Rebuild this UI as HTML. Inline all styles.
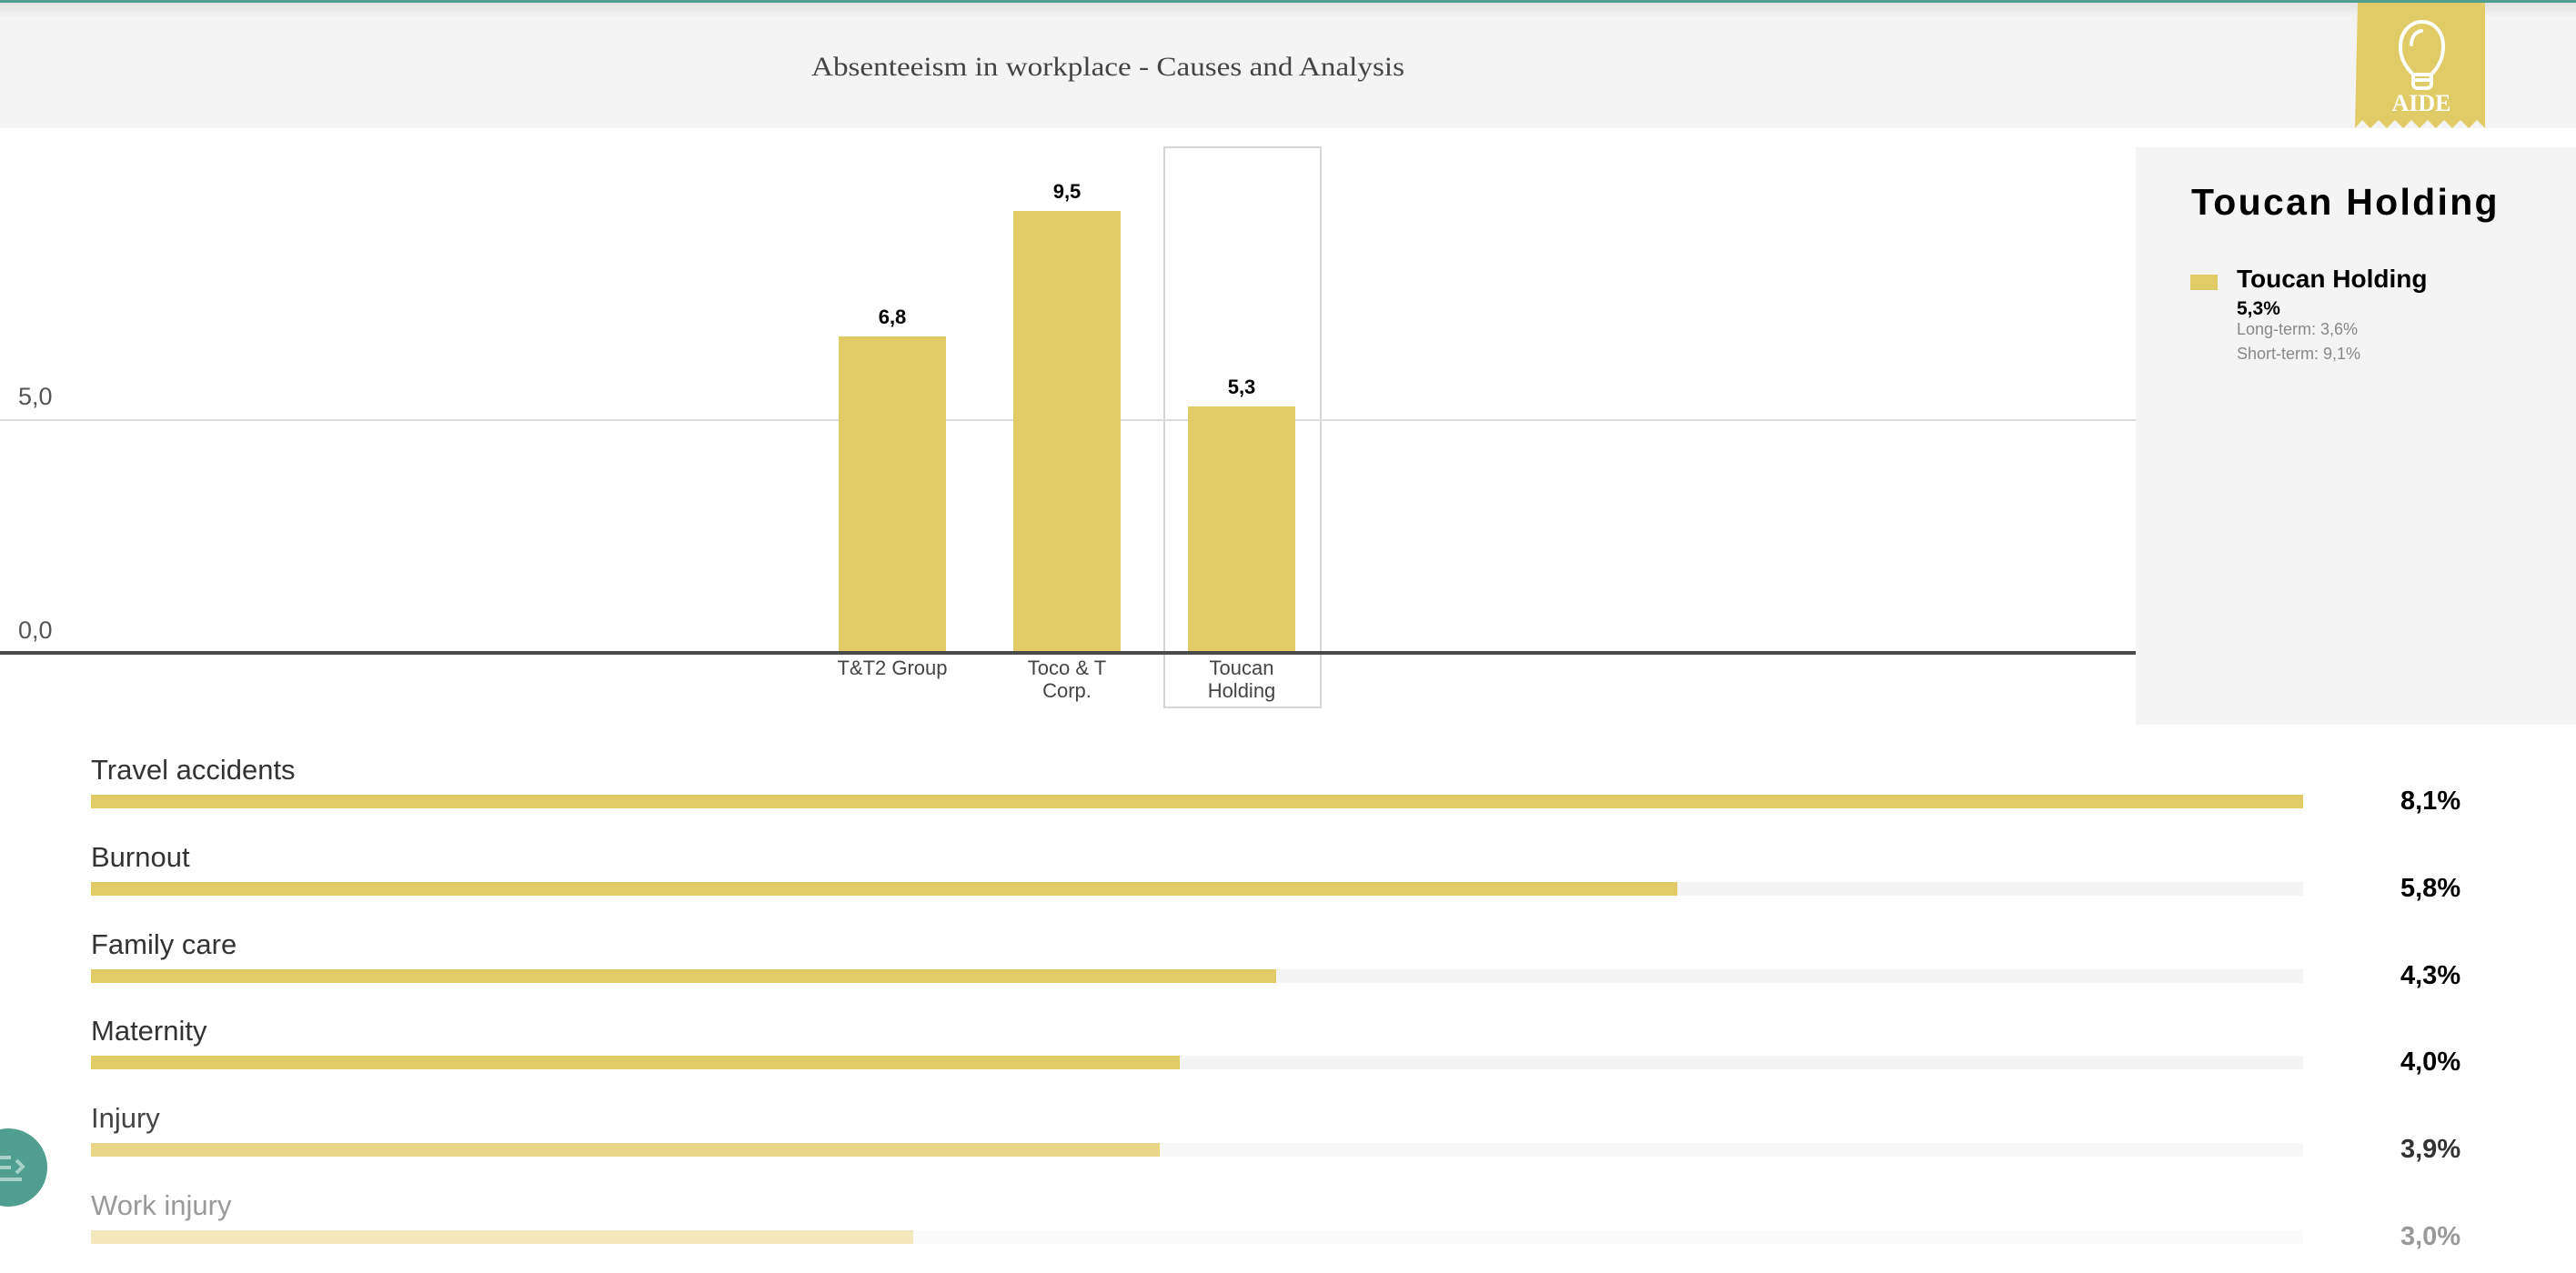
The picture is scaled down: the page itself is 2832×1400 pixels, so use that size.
<!DOCTYPE html>
<html><head><meta charset="utf-8"><style>
html,body{margin:0;padding:0;background:#fff;}
body{width:2832px;height:1400px;overflow:hidden;}
svg{display:block;}
</style></head><body>
<svg width="2832" height="1400" viewBox="0 0 2832 1400" xmlns="http://www.w3.org/2000/svg" font-family="Liberation Sans, Arial, sans-serif">
<defs>
<linearGradient id="sh" x1="0" y1="0" x2="0" y2="1"><stop offset="0" stop-color="#000" stop-opacity="0.08"/><stop offset="1" stop-color="#000" stop-opacity="0"/></linearGradient>
</defs>
<!-- header -->
<rect x="0" y="0" width="2832" height="141" fill="#f4f4f4"/>
<rect x="0" y="0" width="2832" height="3" fill="#4f9e8f"/>
<rect x="0" y="3" width="2832" height="16" fill="url(#sh)"/>
<text x="892" y="83" textLength="652" lengthAdjust="spacingAndGlyphs" font-family="Liberation Serif, serif" font-size="30" fill="#444">Absenteeism in workplace - Causes and Analysis</text>
<!-- AIDE badge -->
<path d="M2592,3 H2732 V141 l-9,-9 l-9,9 l-9,-9 l-9,9 l-9,-9 l-9,9 l-9,-9 l-9,9 l-9,-9 l-9,9 l-9,-9 l-9,9 l-9,-9 l-9,9 l-9,-9 l-8,9 Z" fill="#e1cb66"/>
<g fill="none" stroke="#fff" stroke-width="4" stroke-linecap="round">
<path d="M2653,82 C2641,70 2639,60 2639,51 C2639,35 2650,24 2663,24 C2676,24 2686,35 2686,51 C2686,60 2684,70 2673,82 Z"/>
<path d="M2653,82 V92 C2653,95 2655,97 2658,97 H2668 C2671,97 2673,95 2673,92 V82 M2654,88 H2672"/>
<path d="M2651,49 C2651,40 2656,35 2662,34"/>
</g>
<text x="2662" y="122" text-anchor="middle" font-family="Liberation Serif, serif" font-weight="bold" font-size="26" fill="#fff">AIDE</text>
<!-- side panel -->
<rect x="2348" y="162" width="484" height="635" fill="#f4f4f4"/>
<text x="2409" y="236" font-size="41" font-weight="bold" letter-spacing="2.3" fill="#000">Toucan Holding</text>
<rect x="2408" y="302" width="30" height="17" fill="#e1cb66"/>
<text x="2459" y="316" font-size="28" font-weight="bold" fill="#000">Toucan Holding</text>
<text x="2459" y="346" font-size="21" font-weight="bold" fill="#000">5,3%</text>
<text x="2459" y="368" font-size="18" fill="#888">Long-term: 3,6%</text>
<text x="2459" y="395" font-size="18" fill="#888">Short-term: 9,1%</text>
<!-- chart -->
<rect x="1280" y="162" width="172" height="616" fill="none" stroke="#d6d6d6" stroke-width="2"/>
<line x1="0" y1="462" x2="2348" y2="462" stroke="#dcdcdc" stroke-width="2"/>
<text x="20" y="445" font-size="27" fill="#555">5,0</text>
<text x="20" y="702" font-size="27" fill="#555">0,0</text>
<rect x="922" y="370" width="118" height="348" fill="#e1cb66"/>
<rect x="1114" y="232" width="118" height="486" fill="#e1cb66"/>
<rect x="1306" y="447" width="118" height="271" fill="#e1cb66"/>
<line x1="0" y1="718" x2="2348" y2="718" stroke="#4a4a4a" stroke-width="4"/>
<g font-size="22" font-weight="bold" fill="#000" text-anchor="middle">
<text x="981" y="356">6,8</text><text x="1173" y="218">9,5</text><text x="1365" y="433">5,3</text>
</g>
<g font-size="22" fill="#444" text-anchor="middle">
<text x="981" y="742">T&amp;T2 Group</text>
<text x="1173" y="742">Toco &amp; T</text><text x="1173" y="767">Corp.</text>
<text x="1365" y="742">Toucan</text><text x="1365" y="767">Holding</text>
</g>
<!-- horizontal bars -->
<g font-size="31">
<text x="100" y="857" fill="#333">Travel accidents</text>
<rect x="100" y="874" width="2432" height="15" fill="#f4f4f4"/><rect x="100" y="874" width="2432" height="15" fill="#e1cb66"/>
<text x="2639" y="890" font-size="29" font-weight="bold" fill="#000">8,1%</text>

<text x="100" y="953" fill="#333">Burnout</text>
<rect x="100" y="970" width="2432" height="15" fill="#f4f4f4"/><rect x="100" y="970" width="1744" height="15" fill="#e1cb66"/>
<text x="2639" y="986" font-size="29" font-weight="bold" fill="#000">5,8%</text>

<text x="100" y="1049" fill="#333">Family care</text>
<rect x="100" y="1066" width="2432" height="15" fill="#f4f4f4"/><rect x="100" y="1066" width="1303" height="15" fill="#e1cb66"/>
<text x="2639" y="1082" font-size="29" font-weight="bold" fill="#000">4,3%</text>

<text x="100" y="1144" fill="#333">Maternity</text>
<rect x="100" y="1161" width="2432" height="15" fill="#f4f4f4"/><rect x="100" y="1161" width="1197" height="15" fill="#e1cb66"/>
<text x="2639" y="1177" font-size="29" font-weight="bold" fill="#000">4,0%</text>

<text x="100" y="1240" fill="#444">Injury</text>
<rect x="100" y="1257" width="2432" height="15" fill="#f7f7f7"/><rect x="100" y="1257" width="1175" height="15" fill="#e8d585"/>
<text x="2639" y="1273" font-size="29" font-weight="bold" fill="#333">3,9%</text>

<text x="100" y="1336" fill="#999">Work injury</text>
<rect x="100" y="1353" width="2432" height="15" fill="#fafafa"/><rect x="100" y="1353" width="904" height="15" fill="#f3e8bb"/>
<text x="2639" y="1369" font-size="29" font-weight="bold" fill="#999">3,0%</text>
</g>
<!-- floating button -->
<circle cx="9" cy="1284" r="43" fill="#4f9e8f"/>
<g stroke="#a8d2c8" stroke-width="4" fill="none">
<line x1="-5" y1="1273" x2="12" y2="1273"/><line x1="-5" y1="1284" x2="12" y2="1284"/><line x1="-5" y1="1297" x2="24" y2="1297"/>
<polyline points="18,1276 25,1283 18,1290"/>
</g>
</svg>
</body></html>
